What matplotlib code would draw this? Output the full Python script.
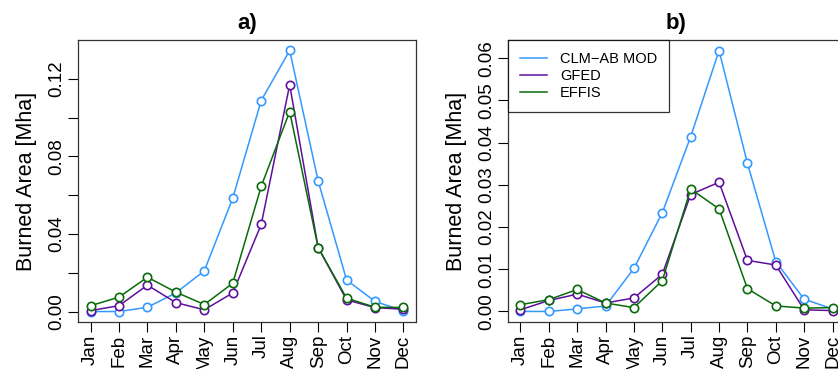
import numpy as np
import matplotlib
matplotlib.use("Agg")
import matplotlib.pyplot as plt

plt.rcParams['font.family'] = ['Liberation Sans', 'DejaVu Sans']

months = ["Jan", "Feb", "Mar", "Apr", "May", "Jun",
          "Jul", "Aug", "Sep", "Oct", "Nov", "Dec"]

# panel a
clm_a   = [0.0, 0.0, 0.0022, 0.0096, 0.021, 0.0585, 0.1088, 0.1346, 0.0674, 0.0163, 0.0052, 0.0003]
gfed_a  = [0.0005, 0.003, 0.0136, 0.0046, 0.0009, 0.0096, 0.0449, 0.1169, 0.033, 0.006, 0.002, 0.0012]
effis_a = [0.003, 0.0074, 0.0177, 0.010, 0.0036, 0.0146, 0.0646, 0.1031, 0.033, 0.0069, 0.0022, 0.0021]

# panel b
clm_b   = [0.0, 0.0, 0.0006, 0.0013, 0.0102, 0.0234, 0.0414, 0.0618, 0.0351, 0.0118, 0.0029, 0.0006]
gfed_b  = [0.0004, 0.0026, 0.0041, 0.002, 0.0032, 0.0088, 0.0277, 0.0306, 0.0121, 0.011, 0.0004, 0.0002]
effis_b = [0.0016, 0.0028, 0.0052, 0.002, 0.0009, 0.0073, 0.029, 0.0243, 0.0054, 0.0013, 0.0008, 0.0009]

names = ["CLM\u2212AB MOD", "GFED", "EFFIS"]
colors = ["#3399ff", "#5e0f9c", "#0a6a0a"]

W, H = 838, 369
fig = plt.figure(figsize=(W / 100, H / 100), dpi=100)

def box(l, r, t, b):
    return [l / W, 1 - b / H, (r - l) / W, (b - t) / H]

ax_a = fig.add_axes(box(78, 416, 40, 322))
ax_b = fig.add_axes(box(508, 845, 40, 322))

x = np.arange(1, 13)

def panel(ax, series, title, yticks, ylabels, ylim):
    for vals, c, n in zip(series, colors, names):
        ax.plot(x, vals, color=c, lw=1.1, marker="o", ms=6, mfc="white",
                mec=c, mew=1.2, label=n)
    ax.set_xlim(0.56, 12.44)
    ax.set_ylim(*ylim)
    ax.set_xticks(x)
    ax.set_xticklabels(months, rotation=90, fontsize=13.5)
    ax.set_yticks(yticks)
    ax.set_yticklabels(ylabels, rotation=90, va="center", fontsize=13.5)
    ax.tick_params(direction="out", length=7, width=0.8, pad=2)
    for s in ax.spines.values():
        s.set_linewidth(0.9)
        s.set_color("#333333")
    ax.set_ylabel("Burned Area [Mha]", fontsize=15.5, labelpad=8)
    ax.set_title(title, fontsize=16, fontweight="bold", pad=8)

yt_a = np.arange(0, 0.121, 0.02)
yl_a = ["0.00", "", "0.04", "", "0.08", "", "0.12"]
panel(ax_a, [clm_a, gfed_a, effis_a], "a)", yt_a, yl_a, (-0.0054, 0.1400))

yt_b = np.arange(0, 0.0601, 0.01)
yl_b = ["%.2f" % v for v in yt_b]
panel(ax_b, [clm_b, gfed_b, effis_b], "b)", yt_b, yl_b, (-0.0025, 0.0643))

leg = ax_b.legend(handles=[plt.Line2D([], [], color=c, lw=1.1) for c in colors],
                  labels=names, loc="upper left", fontsize=10.5,
                  borderaxespad=0, fancybox=False, frameon=True,
                  handlelength=1.9, handletextpad=0.85, borderpad=0.8,
                  labelspacing=0.22)
leg.get_frame().set_edgecolor("black")
leg.get_frame().set_linewidth(0.9)

fig.savefig("out.png", dpi=100)
